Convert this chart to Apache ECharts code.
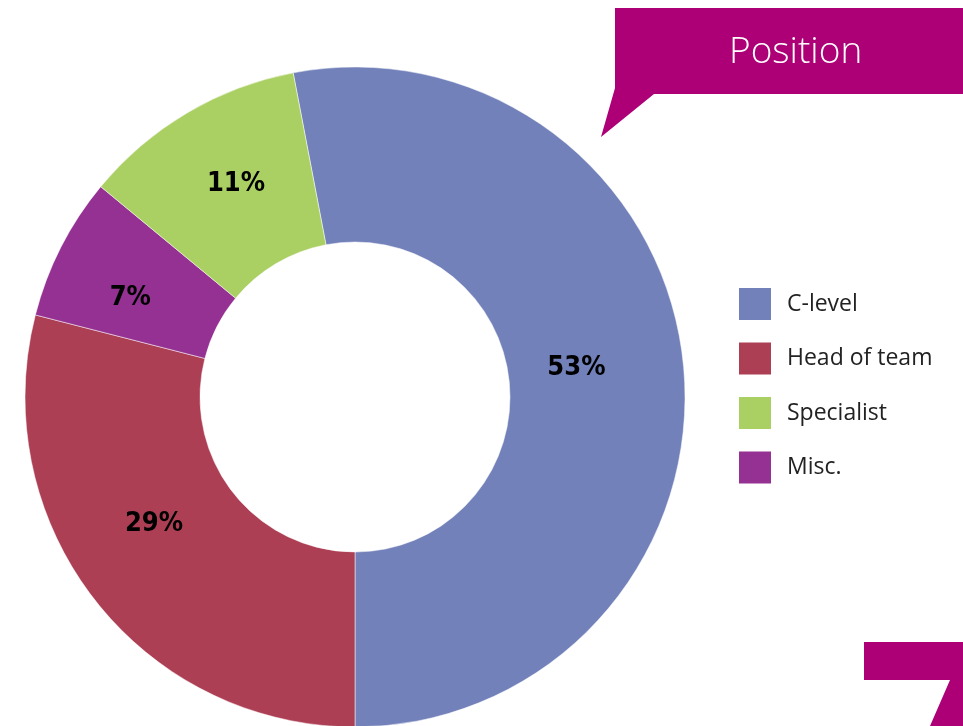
<!DOCTYPE html>
<html>
<head>
<meta charset="utf-8">
<script src="https://cdn.jsdelivr.net/npm/echarts@6/dist/echarts.min.js"></script>
<style>
html,body{margin:0;padding:0;background:#fff;}
#chart{width:963px;height:726px;}
</style>
</head>
<body>
<div id="chart"></div>
<script>
const categories = ['C-level', 'Head of team', 'Misc.', 'Specialist'];
const values = [53, 29, 7, 11];
const legendOrder = ['C-level', 'Head of team', 'Specialist', 'Misc.'];
const colors = {'C-level':'#7281B9','Head of team':'#AD3F55','Specialist':'#AACF62','Misc.':'#943192'};
const labelOffsets = {'C-level':[-23,-6],'Head of team':[-7,-23],'Misc.':[-6,12],'Specialist':[6,-2]};
const titleText = 'Position';

const chart = echarts.init(document.getElementById('chart'));
const magenta = '#AD0077';
chart.setOption({
  animation: false,
  legend: {
    data: legendOrder,
    orient: 'vertical',
    left: 739,
    top: 288,
    padding: 0,
    itemWidth: 32,
    itemHeight: 32,
    itemGap: 22.5,
    icon: 'rect',
    itemStyle: {borderWidth: 0},
    textStyle: {fontFamily: 'Open Sans', fontSize: 23, color: '#222', padding: [0,0,0,11]}
  },
  graphic: [
    {type: 'polygon', shape: {points: [[615,8],[963,8],[963,94],[654,94],[601,137],[615,88]]}, style: {fill: magenta}},
    {type: 'text', left: 729, top: 34, style: {text: titleText, fill: '#fff', fontFamily: 'Open Sans', fontWeight: 300, fontSize: 37}},
    {type: 'polygon', shape: {points: [[864,642],[963,642],[963,726],[930,726],[950,680],[864,680]]}, style: {fill: magenta}}
  ],
  series: [{
    type: 'pie',
    center: [355, 397],
    radius: [155, 330],
    startAngle: 100.8,
    clockwise: true,
    avoidLabelOverlap: false,
    itemStyle: {borderColor: '#fff', borderWidth: 0.5},
    label: {
      position: 'inside',
      formatter: '{c}%',
      fontFamily: '"DejaVu Sans Condensed", "Liberation Sans", sans-serif',
      fontWeight: 'bold',
      fontSize: 27,
      color: '#000'
    },
    labelLine: {show: false},
    emphasis: {disabled: true},
    data: categories.map((c, i) => ({
      name: c, value: values[i],
      itemStyle: {color: colors[c]},
      label: {offset: labelOffsets[c]}
    }))
  }]
});
</script>
</body>
</html>
